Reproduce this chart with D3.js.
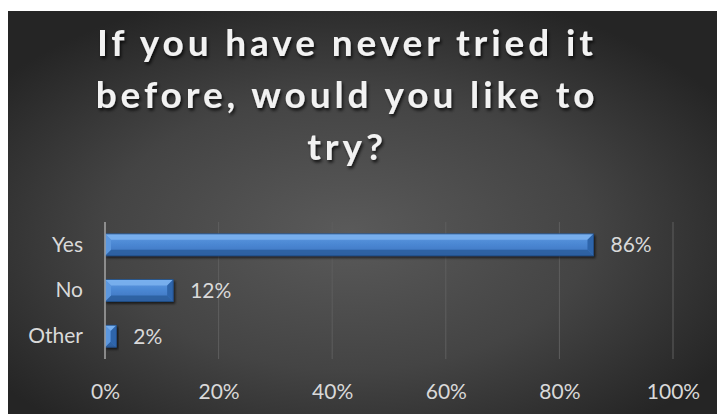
<!DOCTYPE html>
<html>
<head>
<meta charset="utf-8">
<script src="https://cdn.jsdelivr.net/npm/d3@7"></script>
<style>
  html, body { margin: 0; padding: 0; background: #ffffff; }
  svg { display: block; }
</style>
</head>
<body>
<svg id="chart" width="717" height="414"></svg>
<script>
// Survey answers and their shares
const categories = ["Yes", "No", "Other"];
const shares = [0.86, 0.12, 0.02];
const tickValues = [0, 0.2, 0.4, 0.6, 0.8, 1.0];
const titleLines = ["If you have never tried it", "before, would you like to", "try?"];

const W = 717, H = 414;
const svg = d3.select("#chart");
const defs = svg.append("defs");

// Dark chart area with a soft radial glow
const bg = defs.append("radialGradient").attr("id", "bgGlow")
  .attr("cx", "48%").attr("cy", "55%").attr("r", "62%");
bg.append("stop").attr("offset", "0%").attr("stop-color", "#5a5a5a");
bg.append("stop").attr("offset", "55%").attr("stop-color", "#444444");
bg.append("stop").attr("offset", "100%").attr("stop-color", "#252525");

svg.append("rect").attr("x", 8).attr("y", 11)
  .attr("width", W - 8).attr("height", H - 11)
  .attr("fill", "url(#bgGlow)");

// Bar fill and bevel shades
const barGrad = defs.append("linearGradient").attr("id", "barFill")
  .attr("x1", 0).attr("y1", 0).attr("x2", 0).attr("y2", 1);
barGrad.append("stop").attr("offset", "0%").attr("stop-color", "#5f9be3");
barGrad.append("stop").attr("offset", "50%").attr("stop-color", "#4a86d2");
barGrad.append("stop").attr("offset", "100%").attr("stop-color", "#3a72bd");

const shadow = defs.append("filter").attr("id", "barShadow")
  .attr("x", "-10%").attr("y", "-30%").attr("width", "130%").attr("height", "180%");
shadow.append("feDropShadow").attr("dx", 1.5).attr("dy", 2).attr("stdDeviation", 1.2)
  .attr("flood-color", "#000").attr("flood-opacity", 0.6);

const titleShadow = defs.append("filter").attr("id", "titleShadow")
  .attr("x", "-10%").attr("y", "-30%").attr("width", "120%").attr("height", "160%");
titleShadow.append("feDropShadow").attr("dx", 1.5).attr("dy", 2.5).attr("stdDeviation", 1.5)
  .attr("flood-color", "#000").attr("flood-opacity", 0.75);

const fontFam = "Lato, 'Open Sans', sans-serif";
const labelColor = "#d9d9d9";

// Title
const title = svg.append("g").attr("filter", "url(#titleShadow)");
title.selectAll("text").data(titleLines).join("text")
  .attr("x", 347)
  .attr("y", (d, i) => 56 + i * 52)
  .attr("text-anchor", "middle")
  .attr("font-family", fontFam)
  .attr("font-weight", 700)
  .attr("font-size", 37)
  .attr("letter-spacing", 3.9)
  .attr("fill", "#f2f2f2")
  .text(d => d);

// Scales
const x = d3.scaleLinear().domain([0, 1]).range([105, 673]);
const y = d3.scaleBand().domain(categories).range([222, 359]).paddingInner(0.52).paddingOuter(0.26);

// Vertical gridlines
svg.append("g").selectAll("line").data(tickValues.slice(1)).join("line")
  .attr("x1", d => x(d)).attr("x2", d => x(d))
  .attr("y1", 222).attr("y2", 359)
  .attr("stroke", "#5e5e5e").attr("stroke-width", 1);

// Bottom tick labels via axis
const xAxis = d3.axisBottom(x).tickValues(tickValues).tickFormat(d3.format(".0%")).tickSize(0).tickPadding(0);
const gx = svg.append("g").attr("transform", "translate(0,384)").call(xAxis);
gx.select(".domain").remove();
gx.selectAll("text").attr("fill", labelColor).attr("font-size", 21)
  .attr("font-family", fontFam).attr("dy", "0.71em");

// Category labels via axis
const yAxis = d3.axisLeft(y).tickSize(0).tickPadding(0);
const gy = svg.append("g").attr("transform", "translate(83,0)").call(yAxis);
gy.select(".domain").remove();
gy.selectAll("text").attr("fill", labelColor).attr("font-size", 21)
  .attr("font-family", fontFam);

// Bars with bevelled edges
const bars = svg.append("g").selectAll("g").data(categories.map((c, i) => ({c, v: shares[i]}))).join("g")
  .attr("filter", "url(#barShadow)");

bars.each(function(d) {
  const g = d3.select(this);
  const x0 = x(0), x1 = x(d.v), y0 = y(d.c), h = y.bandwidth(), y1 = y0 + h;
  const b = Math.min(6, (x1 - x0) / 2, h / 2);
  g.append("rect").attr("x", x0).attr("y", y0).attr("width", x1 - x0).attr("height", h)
    .attr("fill", "url(#barFill)");
  // top bevel
  g.append("polygon").attr("points", [[x0, y0], [x1, y0], [x1 - b, y0 + b], [x0 + b, y0 + b]].join(" "))
    .attr("fill", "#7cb3f0").attr("opacity", 0.85);
  // bottom bevel
  g.append("polygon").attr("points", [[x0, y1], [x1, y1], [x1 - b, y1 - b], [x0 + b, y1 - b]].join(" "))
    .attr("fill", "#2d5f9f").attr("opacity", 0.9);
  // left bevel
  g.append("polygon").attr("points", [[x0, y0], [x0 + b, y0 + b], [x0 + b, y1 - b], [x0, y1]].join(" "))
    .attr("fill", "#5b97de");
  // right bevel
  g.append("polygon").attr("points", [[x1, y0], [x1 - b, y0 + b], [x1 - b, y1 - b], [x1, y1]].join(" "))
    .attr("fill", "#2f65ab");
  // edge
  g.append("rect").attr("x", x0).attr("y", y0).attr("width", x1 - x0).attr("height", h)
    .attr("fill", "none").attr("stroke", "#1f4a80").attr("stroke-width", 0.8);
});

// Value labels
svg.append("g").selectAll("text").data(categories.map((c, i) => ({c, v: shares[i]}))).join("text")
  .attr("x", d => x(d.v) + 17)
  .attr("y", d => y(d.c) + y.bandwidth() / 2)
  .attr("dy", "0.35em")
  .attr("fill", labelColor)
  .attr("font-size", 21)
  .attr("font-family", fontFam)
  .text(d => d3.format(".0%")(d.v));

// Vertical category axis line
svg.append("line").attr("x1", x(0)).attr("x2", x(0)).attr("y1", 222).attr("y2", 359)
  .attr("stroke", "#a6a6a6").attr("stroke-width", 1.5);
</script>
</body>
</html>
